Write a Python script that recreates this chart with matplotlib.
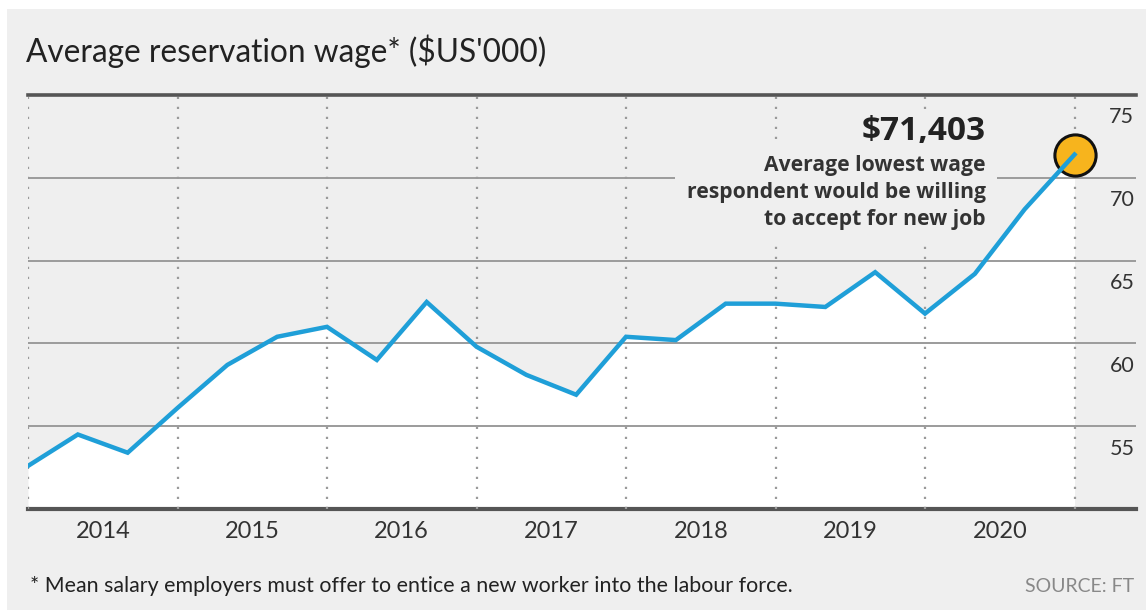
import numpy as np
import matplotlib
matplotlib.use("Agg")
import matplotlib.pyplot as plt
import matplotlib.transforms as mtransforms

# data: average reservation wage, three readings per year ($US'000)
years = [2014, 2015, 2016, 2017, 2018, 2019, 2020]
wage = [52.6, 54.5, 53.4, 56.1, 58.7, 60.4, 61.0, 59.0, 62.5, 59.8, 58.1,
        56.9, 60.4, 60.2, 62.4, 62.4, 62.2, 64.3, 61.8, 64.2, 68.1, 71.403]
readings_per_year = 3
y_ticks = [55, 60, 65, 70, 75]
y_floor = 50

title = "Average reservation wage* ($US'000)"
footnote = "* Mean salary employers must offer to entice a new worker into the labour force."
source = "SOURCE: FT"
callout_value = "$71,403"
callout_text = "Average lowest wage\nrespondent would be willing\nto accept for new job"

BG = "#efefef"
BLUE = "#1f9fd8"
ORANGE = "#f7b41d"
LATO = ["Lato", "DejaVu Sans"]
OPEN = ["Open Sans", "DejaVu Sans"]

W, H = 1146, 610
fig = plt.figure(figsize=(W / 100, H / 100), dpi=100)
fig.patch.set_facecolor("white")
# grey card with a thin white margin top/left
fig.patches.append(plt.Rectangle((7 / W, 0), 1, 1 - 9 / H, transform=fig.transFigure,
                                 facecolor=BG, edgecolor="none", zorder=-10))

# axes: x from start of 2014, extends right past the data for the tick labels
x0, x1 = 28, 1136
y_top, y_bot = 95, 509
ax = fig.add_axes([x0 / W, 1 - y_bot / H, (x1 - x0) / W, (y_bot - y_top) / H])
ax.set_facecolor("none")

x = years[0] + np.arange(len(wage)) / readings_per_year
px_per_year = 149.5
ax.set_xlim(years[0], years[0] + (x1 - x0) / px_per_year)
ax.set_ylim(y_floor, y_ticks[-1])

ax.fill_between(x, wage, y_floor, color="white", lw=0, zorder=1)

for yt in y_ticks[:-1]:
    ax.axhline(yt, color="#9b9b9b", lw=1.4, zorder=2)
ax.axhline(y_ticks[-1], color="#555555", lw=2.6, zorder=8, clip_on=False)
ax.axhline(y_floor, color="#555555", lw=3, zorder=2, clip_on=False)

for yr in years + [years[-1] + 1]:
    ax.axvline(yr, color="#9a9a9a", lw=1.6, dashes=(1, 3.5), zorder=2)

# line drawn above the callout box, marker just beneath the line
ax.plot(x, wage, color=BLUE, lw=3.2, solid_joinstyle="miter", zorder=7)
ax.scatter([x[-1]], [wage[-1]], s=880, color=ORANGE, edgecolor="#111111",
           linewidth=2.2, zorder=6.5)

# year labels centred in each year band
for yr in years:
    ax.text(yr + 0.5, y_floor - 0.7, str(yr), ha="center", va="top",
            fontsize=17, color="#333333", family=LATO)

# y labels sit just under their gridline at the right edge
lab_tr = mtransforms.blended_transform_factory(ax.transAxes, ax.transData)
for yt in y_ticks:
    ax.text(0.9985, yt - 0.75, str(yt), transform=lab_tr, ha="right", va="top",
            fontsize=15.5, color="#333333", family=LATO)

# callout
cx = x[-1] - 0.595
ax.text(cx, 72.3, callout_value, ha="right", va="baseline", fontsize=24,
        fontweight="bold", color="#222222", zorder=6, family=OPEN,
        bbox=dict(facecolor=BG, edgecolor="none", pad=4))
ax.text(cx, 71.4, callout_text, ha="right", va="top", fontsize=15.2,
        fontweight="bold", color="#333333", linespacing=1.38, zorder=6,
        family=OPEN, bbox=dict(facecolor=BG, edgecolor="none", pad=8))

ax.set_xticks([])
ax.set_yticks([])
for s in ax.spines.values():
    s.set_visible(False)

fig.text(26 / W, 1 - 62 / H, title, fontsize=22.8, color="#222222",
         va="baseline", family=LATO)
fig.text(30 / W, 1 - 592 / H, footnote, fontsize=15.4, color="#222222",
         va="baseline", family=LATO)
fig.text(1134 / W, 1 - 592 / H, source, fontsize=14, color="#888888",
         va="baseline", ha="right", family=LATO)

fig.savefig("out.png", dpi=100, facecolor=fig.get_facecolor())
